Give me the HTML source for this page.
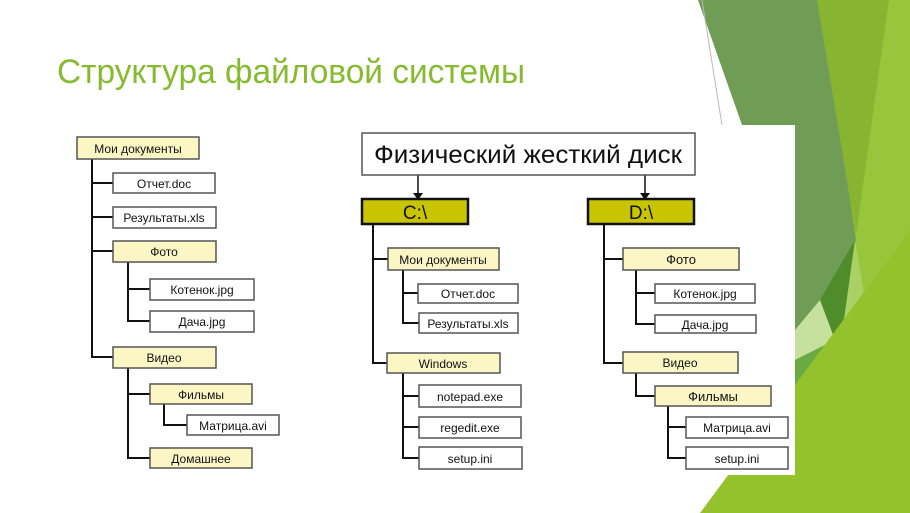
<!DOCTYPE html>
<html><head><meta charset="utf-8"><style>
body{margin:0;width:910px;height:513px;overflow:hidden;background:#fff}
svg{display:block}
text{font-family:"Liberation Sans",sans-serif;fill:#111}
</style></head><body>
<svg width="910" height="513" viewBox="0 0 910 513" xmlns="http://www.w3.org/2000/svg">
<!-- background green shapes -->
<polygon points="700,513 790,420 820,0 910,0 910,513" fill="#97c53c"/>
<polygon points="698,0 820,0 856,240 835,380 800,430 742,125" fill="#6f9d55"/>
<polygon points="817,0 889,0 856,235" fill="#87b532"/>
<polygon points="820,300 855,240 840,380" fill="#4f8c2a"/>
<polygon points="795,330 820,300 835,340 795,360" fill="#c6e19e"/>
<polygon points="795,360 835,340 840,380 780,480" fill="#6aaa45"/>
<polygon points="855,240 870,330 830,420" fill="#a9d165"/>
<polygon points="700,513 910,230 910,513" fill="#94c22c"/>
<line x1="702" y1="0" x2="722" y2="125" stroke="#bbb" stroke-width="1"/>
<rect x="345" y="125" width="450" height="350" fill="#fff"/>

<text x="57" y="83" font-size="34" style="fill:#86bb2f" textLength="468" lengthAdjust="spacingAndGlyphs">Структура файловой системы</text>

<g stroke="#111" stroke-width="2" fill="none">
<!-- left tree lines -->
<path d="M92 159V357H113M92 183H113M92 217H113M92 251H113"/>
<path d="M128 262V321H150M128 289H150"/>
<path d="M128 368V458H150M128 394H150"/>
<path d="M164 404V425H187"/>
<!-- right C -->
<path d="M373 224V363H387M373 259H388"/>
<path d="M403 270V323H419M403 293H418"/>
<path d="M403 373V458H419M403 396H419M403 427H419"/>
<!-- right D -->
<path d="M604 224V363H623M604 259H623"/>
<path d="M636 270V324H655M636 293H655"/>
<path d="M636 373V396H655"/>
<path d="M668 406V458H686M668 427H686"/>
<path d="M418 175V196M645 175V196" stroke-width="1.5"/>
</g>
<polygon points="413,193 423,193 418,200" fill="#111"/>
<polygon points="640,193 650,193 645,200" fill="#111"/>

<g stroke="#555" stroke-width="1.5">
<rect x="77" y="137" width="122" height="22" fill="#fbf6c4"/>
<rect x="113" y="173" width="102" height="20" fill="#fff"/>
<rect x="113" y="207" width="103" height="21" fill="#fff"/>
<rect x="113" y="241" width="103" height="21" fill="#fbf6c4"/>
<rect x="150" y="279" width="104" height="21" fill="#fff"/>
<rect x="150" y="311" width="104" height="21" fill="#fff"/>
<rect x="113" y="347" width="103" height="21" fill="#fbf6c4"/>
<rect x="150" y="384" width="102" height="20" fill="#fbf6c4"/>
<rect x="187" y="415" width="92" height="20" fill="#fff"/>
<rect x="150" y="448" width="102" height="20" fill="#fbf6c4"/>

<rect x="362" y="133" width="333" height="42" fill="#fff"/>
<rect x="388" y="248" width="111" height="22" fill="#fbf6c4"/>
<rect x="418" y="284" width="100" height="19" fill="#fff"/>
<rect x="419" y="313" width="99" height="20" fill="#fff"/>
<rect x="387" y="353" width="113" height="20" fill="#fbf6c4"/>
<rect x="419" y="385" width="102" height="22" fill="#fff"/>
<rect x="419" y="417" width="102" height="21" fill="#fff"/>
<rect x="419" y="447" width="103" height="22" fill="#fff"/>
<rect x="623" y="248" width="116" height="22" fill="#fbf6c4"/>
<rect x="655" y="284" width="100" height="19" fill="#fff"/>
<rect x="655" y="315" width="101" height="18" fill="#fff"/>
<rect x="623" y="352" width="115" height="21" fill="#fbf6c4"/>
<rect x="655" y="386" width="116" height="20" fill="#fbf6c4"/>
<rect x="686" y="417" width="102" height="21" fill="#fff"/>
<rect x="686" y="447" width="102" height="22" fill="#fff"/>
</g>
<rect x="362" y="199" width="106" height="25" fill="#c9c400" stroke="#111" stroke-width="2.5"/>
<rect x="588" y="199" width="106" height="25" fill="#c9c400" stroke="#111" stroke-width="2.5"/>

<g font-size="12" text-anchor="middle">
<text x="138" y="153">Мои документы</text>
<text x="164" y="188">Отчет.doc</text>
<text x="164" y="222">Результаты.xls</text>
<text x="164" y="256">Фото</text>
<text x="202" y="294">Котенок.jpg</text>
<text x="202" y="326">Дача.jpg</text>
<text x="164" y="362">Видео</text>
<text x="201" y="399">Фильмы</text>
<text x="233" y="430">Матрица.avi</text>
<text x="201" y="463">Домашнее</text>

<text x="443" y="264">Мои документы</text>
<text x="468" y="298">Отчет.doc</text>
<text x="468" y="328">Результаты.xls</text>
<text x="443" y="368">Windows</text>
<text x="470" y="401">notepad.exe</text>
<text x="470" y="432">regedit.exe</text>
<text x="470" y="463">setup.ini</text>
<text x="681" y="264" font-size="13">Фото</text>
<text x="705" y="298">Котенок.jpg</text>
<text x="705" y="329">Дача.jpg</text>
<text x="680" y="367">Видео</text>
<text x="713" y="401" font-size="13">Фильмы</text>
<text x="737" y="432">Матрица.avi</text>
<text x="737" y="463">setup.ini</text>

<text x="528" y="163" font-size="25" textLength="308" lengthAdjust="spacingAndGlyphs">Физический жесткий диск</text>
<text x="415" y="219" font-size="19">C:\</text>
<text x="641" y="219" font-size="19">D:\</text>
</g>
</svg>
</body></html>
